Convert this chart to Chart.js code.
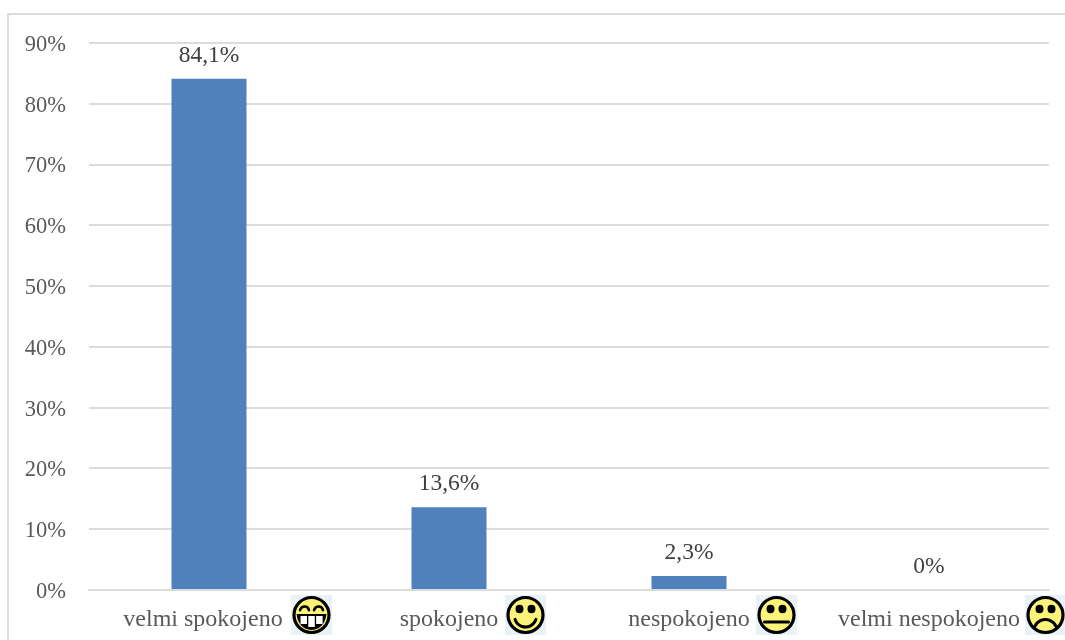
<!DOCTYPE html>
<html>
<head>
<meta charset="utf-8">
<title>Spokojenost</title>
<script src="https://cdn.jsdelivr.net/npm/chart.js@4"></script>
<style>
    html, body { margin: 0; padding: 0; background: #fff; overflow: hidden; }
    #wrap { width: 1065px; height: 640px; }
</style>
</head>
<body>
<div id="wrap"><canvas id="barChart"></canvas></div>
<script>
const categories = ['velmi spokojeno', 'spokojeno', 'nespokojeno', 'velmi nespokojeno'];
const values = [84.1, 13.6, 2.3, 0];
const valueLabels = ['84,1%', '13,6%', '2,3%', '0%'];
const faces = ['grin', 'smile', 'neutral', 'frown'];
// where the icon box starts, counted from the centre of its category
const faceOffsets = [82, 56, 67, 96];

const gridColor = '#dcdcdc';
const textColor = '#595959';
const fontFamily = '"Liberation Serif", "Times New Roman", serif';

const drawFace = (ctx, kind, boxX, boxY) => {
    const cx = boxX + 20.5;
    const cy = boxY + 20;

    ctx.save();
    ctx.fillStyle = '#e9f2f6';
    ctx.fillRect(boxX, boxY, 41, 40);

    ctx.beginPath();
    ctx.arc(cx, cy, 17.5, 0, Math.PI * 2);
    ctx.fillStyle = '#fbf478';
    ctx.fill();
    ctx.lineWidth = 3.2;
    ctx.strokeStyle = '#000';
    ctx.stroke();

    ctx.fillStyle = '#000';
    ctx.lineCap = 'round';
    ctx.lineWidth = 3;

    if (kind === 'grin') {
        // squinting eyes
        ctx.lineWidth = 2.6;
        [-7, 7].forEach(dx => {
            ctx.beginPath();
            ctx.arc(cx + dx, cy - 4, 4.5, Math.PI * 1.05, Math.PI * 1.95);
            ctx.stroke();
        });
        // black mouth with three teeth
        ctx.beginPath();
        ctx.moveTo(cx - 15, cy - 1);
        ctx.lineTo(cx + 15, cy - 1);
        ctx.quadraticCurveTo(cx + 13, cy + 14, cx, cy + 15);
        ctx.quadraticCurveTo(cx - 13, cy + 14, cx - 15, cy - 1);
        ctx.closePath();
        ctx.fillStyle = '#000';
        ctx.fill();
        ctx.fillStyle = '#fff';
        ctx.fillRect(cx - 11, cy + 1, 6.5, 8);
        ctx.fillRect(cx - 3.2, cy + 1, 6.5, 11);
        ctx.fillRect(cx + 4.6, cy + 1, 6.5, 8);
    } else {
        [-6, 6].forEach(dx => {
            ctx.beginPath();
            ctx.ellipse(cx + dx, cy - 6, 4, 4.2, 0, 0, Math.PI * 2);
            ctx.fill();
        });
        ctx.beginPath();
        if (kind === 'smile') {
            ctx.arc(cx, cy + 1, 11, Math.PI * 0.1, Math.PI * 0.9);
        } else if (kind === 'neutral') {
            ctx.moveTo(cx - 12, cy + 7);
            ctx.lineTo(cx + 12, cy + 7);
        } else {
            ctx.arc(cx, cy + 16, 11.5, Math.PI * 1.12, Math.PI * 1.88);
        }
        ctx.stroke();
    }
    ctx.restore();
};

const chartDecor = {
    id: 'chartDecor',
    beforeDraw(chart) {
        const ctx = chart.ctx;
        ctx.save();
        ctx.strokeStyle = gridColor;
        ctx.lineWidth = 2;
        ctx.beginPath();
        ctx.moveTo(8, chart.height);
        ctx.lineTo(8, 14);
        ctx.lineTo(chart.width, 14);
        ctx.stroke();
        ctx.restore();
    },
    afterDraw(chart) {
        const ctx = chart.ctx;
        const bars = chart.getDatasetMeta(0).data;

        ctx.save();
        ctx.font = '23.5px ' + fontFamily;
        ctx.fillStyle = '#404040';
        ctx.textAlign = 'center';
        ctx.textBaseline = 'alphabetic';
        bars.forEach((bar, i) => {
            ctx.fillText(valueLabels[i], bar.x, bar.y - 17);
        });
        ctx.restore();

        faces.forEach((kind, i) => {
            drawFace(ctx, kind, chart.scales.x.getPixelForValue(i) + faceOffsets[i], 595);
        });
    }
};

new Chart(document.getElementById('barChart'), {
    type: 'bar',
    data: {
        labels: categories,
        datasets: [{
            data: values,
            backgroundColor: '#4f81bd',
            barPercentage: 0.3125,
            categoryPercentage: 1
        }]
    },
    options: {
        animation: false,
        responsive: true,
        maintainAspectRatio: false,
        layout: { padding: { top: 43, right: 16, left: 0, bottom: 0 } },
        scales: {
            x: {
                grid: { display: false },
                border: { color: gridColor, width: 2 },
                ticks: {
                    color: textColor,
                    font: { family: fontFamily, size: 24 },
                    padding: 7,
                    maxRotation: 0,
                    autoSkip: false,
                    // first label sits a little left of its category
                    callback(value, index) {
                        const label = this.getLabelForValue(value);
                        return index === 0 ? label + '\u00a0\u00a0' : label;
                    }
                },
                afterFit(scale) { scale.height = 50; }
            },
            y: {
                min: 0,
                max: 90,
                grid: { color: gridColor, lineWidth: 2, drawTicks: false },
                border: { display: false },
                ticks: {
                    stepSize: 10,
                    color: textColor,
                    font: { family: fontFamily, size: 22.5 },
                    padding: 23,
                    labelOffset: 2,
                    callback: value => value + '%'
                },
                afterFit(scale) { scale.width = 89; }
            }
        },
        plugins: {
            legend: { display: false },
            tooltip: { intersect: false }
        }
    },
    plugins: [chartDecor]
});
</script>
</body>
</html>
